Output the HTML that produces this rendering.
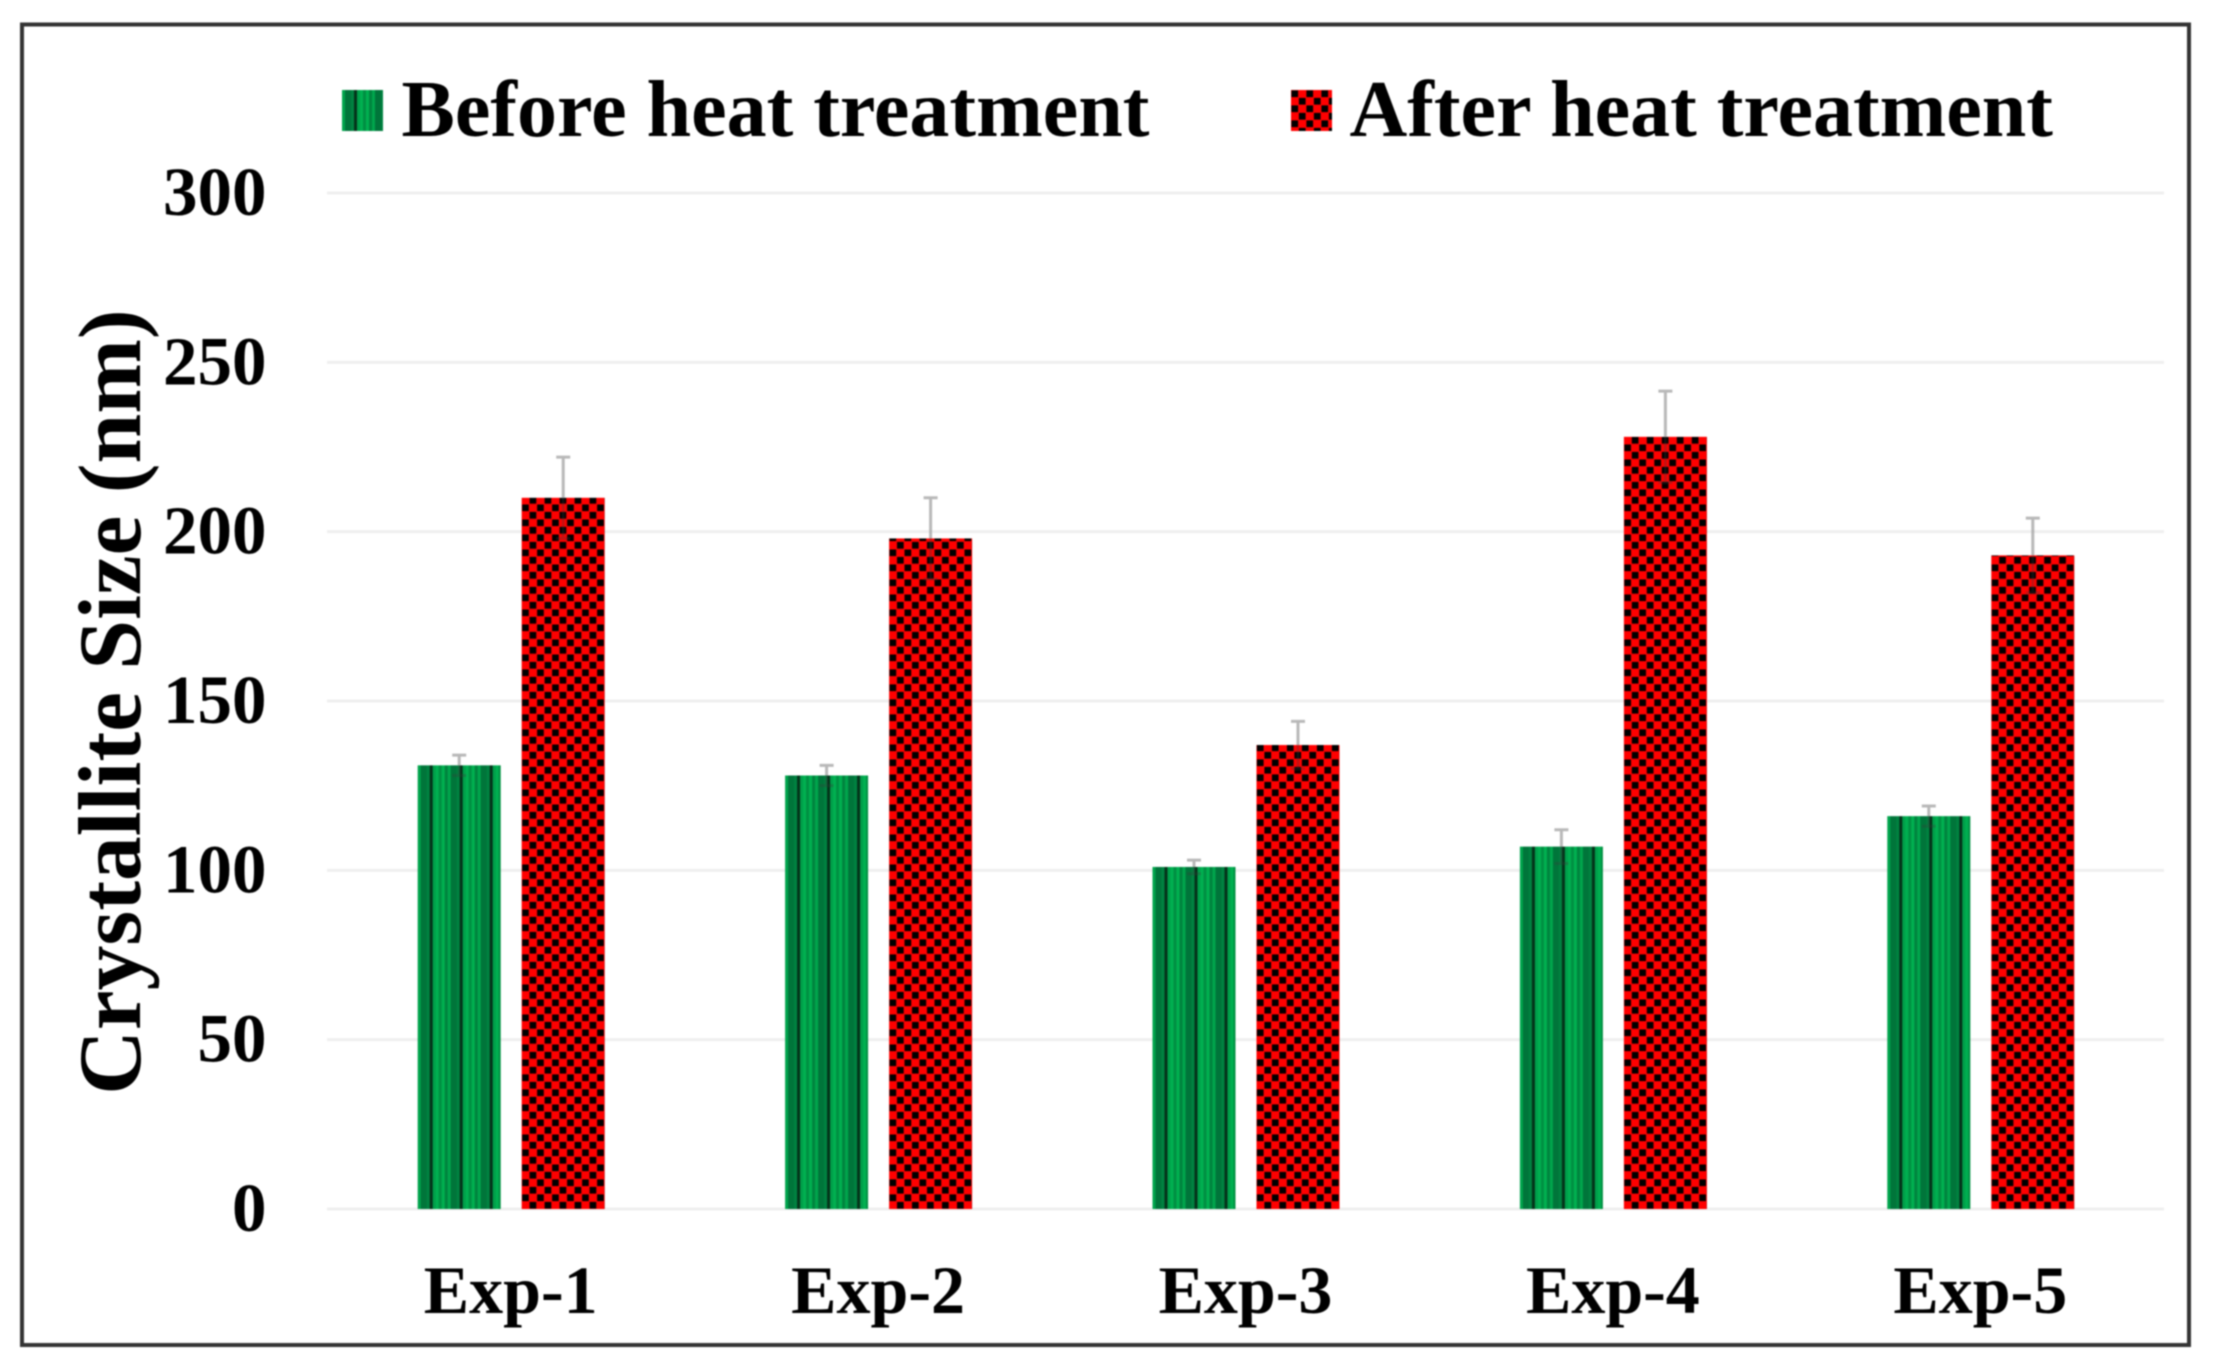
<!DOCTYPE html>
<html lang="en">
<head>
<meta charset="utf-8">
<title>Crystallite Size Chart</title>
<style>
html,body{margin:0;padding:0;background:#fff;width:2214px;height:1364px;overflow:hidden}
svg{display:block;filter:blur(0.7px)}
text{font-family:"Liberation Serif",serif;font-weight:bold;fill:#000}
</style>
</head>
<body>
<svg id="chart" xmlns="http://www.w3.org/2000/svg" width="2214" height="1364" viewBox="0 0 2214 1364">
  <defs>
    <pattern id="stripes" patternUnits="userSpaceOnUse" width="30" height="30">
      <rect width="30" height="30" fill="#00a54c"/>
      <rect x="3" width="6" height="30" fill="#00753a"/>
      <rect x="9" width="3" height="30" fill="#008240"/>
      <rect x="12" width="3" height="30" fill="#04331a"/>
      <rect x="15" width="3" height="30" fill="#009f4a"/>
      <rect x="18" width="3" height="30" fill="#00b050"/>
      <rect x="21" width="3" height="30" fill="#009042"/>
      <rect x="24" width="3" height="30" fill="#00b050"/>
      <rect x="27" width="3" height="30" fill="#00843e"/>
    </pattern>
    <pattern id="checks" patternUnits="userSpaceOnUse" width="15" height="15">
      <rect width="15" height="15" fill="#ff0000"/>
      <rect x="0.4" y="0.4" width="6.7" height="6.7" fill="#000"/>
      <rect x="7.9" y="7.9" width="6.7" height="6.7" fill="#000"/>
    </pattern>
  </defs>
  <rect x="0" y="0" width="2214" height="1364" fill="#fff"/>
  <rect x="22" y="24.5" width="2167" height="1320.5" fill="none" stroke="#333" stroke-width="4"/>
  <g id="grid"></g>
  <g id="bars"></g>
  <g id="errors"></g>
  <g id="yticks"></g>
  <g id="xticks"></g>
  <text transform="translate(140 702) rotate(-90)" text-anchor="middle" font-size="89.5">Crystallite Size (nm)</text>
  <g>
    <g>
      <g transform="translate(342 90)"><rect width="41" height="41" fill="url(#stripes)"/></g>
      <text x="401.5" y="136" font-size="80">Before heat treatment</text>
    </g>
    <g>
      <g transform="translate(1291 90)"><rect width="41" height="41" fill="url(#checks)"/></g>
      <text x="1349.5" y="136" font-size="80">After heat treatment</text>
    </g>
  </g>
</svg>
<script>
const categories = ['Exp-1', 'Exp-2', 'Exp-3', 'Exp-4', 'Exp-5'];
const beforeValues = [131, 128, 101, 107, 116];
const afterValues = [210, 198, 137, 228, 193];
const beforeErrors = [3, 3, 2, 5, 3];
const afterErrors = [12, 12, 7, 13.5, 11];
const yTickLabels = [0, 50, 100, 150, 200, 250, 300];

const NS = 'http://www.w3.org/2000/svg';
const plotLeft = 327, plotRight = 2164, plotBase = 1209, plotTop = 193, yMax = 300;
const barWidth = 83, barGap = 21;
function yScale(v) { return plotBase - (v / yMax) * (plotBase - plotTop); }
function xBand(i) { return plotLeft + (i + 0.5) * (plotRight - plotLeft) / categories.length; }
function make(tag, attrs, parent) {
  const el = document.createElementNS(NS, tag);
  Object.keys(attrs).forEach(function (k) { el.setAttribute(k, attrs[k]); });
  parent.appendChild(el);
  return el;
}
const gridG = document.getElementById('grid');
const barsG = document.getElementById('bars');
const errG = document.getElementById('errors');
const yG = document.getElementById('yticks');
const xG = document.getElementById('xticks');

yTickLabels.forEach(function (t) {
  const line = make('line', { x1: plotLeft, x2: plotRight, y1: yScale(t), y2: yScale(t), stroke: '#efefef', 'stroke-width': 3 }, gridG);
  
  
  const label = make('text', { x: 266.5, y: yScale(t) + 22, 'text-anchor': 'end', 'font-size': 69 }, yG);
  label.textContent = t;
  
  
});

function drawBar(x, value, err, fill, stem) {
  const g = make('g', { transform: 'translate(' + x + ' ' + plotBase + ')' }, barsG);
  const h = plotBase - yScale(value);
  const bar = make('rect', { x: 0, y: -h, width: barWidth, height: h, fill: fill }, g);
  
  
  const cx = x + barWidth / 2;
  const upper = make('path', {
    d: 'M' + cx + ' ' + yScale(value) + 'V' + yScale(value + err) +
       'M' + (cx - 7) + ' ' + yScale(value + err) + 'H' + (cx + 7),
    stroke: '#a6a6a6', 'stroke-width': 3, fill: 'none', opacity: 0.8
  }, errG);
  
  
  const lower = make('path', {
    d: 'M' + cx + ' ' + yScale(value) + 'V' + yScale(value - err) +
       'M' + (cx - 7) + ' ' + yScale(value - err) + 'H' + (cx + 7),
    stroke: '#3a3a3a', 'stroke-width': 3, fill: 'none', opacity: 0.3
  }, errG);
  
  
}

categories.forEach(function (c, i) {
  const cx = xBand(i);
  drawBar(cx - 10 - barWidth, beforeValues[i], beforeErrors[i], 'url(#stripes)', 'before-' + c.toLowerCase());
  drawBar(cx + 11, afterValues[i], afterErrors[i], 'url(#checks)', 'after-' + c.toLowerCase());
  const label = make('text', { x: cx, y: 1313, 'text-anchor': 'middle', 'font-size': 68 }, xG);
  label.textContent = c;
  
  
});
</script>
</body>
</html>
